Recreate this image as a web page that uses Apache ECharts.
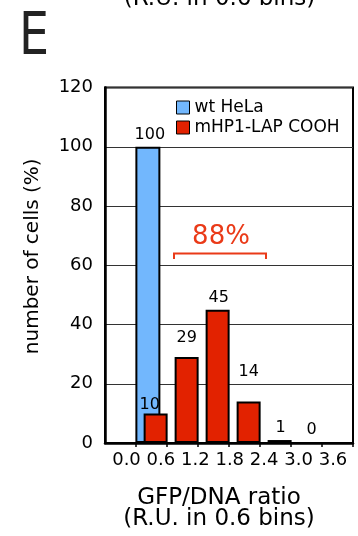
<!DOCTYPE html>
<html>
<head>
<meta charset="utf-8">
<script src="https://cdn.jsdelivr.net/npm/echarts@6/dist/echarts.min.js"></script>
<style>
html,body{margin:0;padding:0;background:#fff;}
#c{width:358px;height:536px;}
</style>
</head>
<body>
<div id="c"></div>
<script>
// ---- data ----
const binSlots = ['', '0.0-0.6', '0.6-1.2', '1.2-1.8', '1.8-2.4', '2.4-3.0', '3.0-3.6', ' '];
const wtHeLa = [null, 100, null, null, null, null, null, null];
const mHP1LAP = [null, 10, 29, 45, 14, 1, 0, null];
const xTickLabels = ['0.0', '0.6', '1.2', '1.8', '2.4', '3.0', '3.6'];
const yTicks = { min: 0, max: 120, step: 20 };
const seriesNames = ['wt HeLa', 'mHP1-LAP COOH'];
const bracketText = '88%';

// ---- styling ----
const FONT = 'DejaVu Sans';
const BLUE = '#72b7fd';
const RED = '#e22200';
const ANNOT = '#ea3a18';
// small label nudges [dx, dy] per slot (style only)
const redLabelNudge = [null, [-6, 2], [0, -8], [1, -1], [0, -19], [1, -1], [1, -1], null];
const blueLabelNudge = [null, [2, -1], null, null, null, null, null, null];

function withLabels(values, nudges) {
  return values.map((v, i) => {
    if (v === null) return '-';
    const n = nudges[i] || [0, 0];
    return { value: v, label: { offset: n } };
  });
}

const chart = echarts.init(document.getElementById('c'), null, { renderer: 'canvas' });
const option = {
  animation: false,
  textStyle: { fontFamily: FONT },
  grid: [
    { left: 105, right: 5, top: 87.5, bottom: 93, show: true, borderColor: '#000', borderWidth: 2, containLabel: false },
    { left: 126.5, right: 25, top: 87.5, bottom: 93, show: false, containLabel: false }
  ],
  xAxis: [
    {
      type: 'category', gridIndex: 0, data: binSlots, boundaryGap: true,
      axisLine: { show: true, lineStyle: { color: '#000', width: 2.5 } },
      axisTick: { show: true, length: 4, interval: (i) => i >= 1, lineStyle: { color: '#000', width: 1.5 } },
      axisLabel: { show: false },
      splitLine: { show: false }
    },
    {
      type: 'category', gridIndex: 1, data: xTickLabels, boundaryGap: false,
      axisLine: { show: false }, axisTick: { show: false }, splitLine: { show: false },
      axisLabel: { show: true, interval: 0, margin: 8, fontSize: 18, color: '#000', fontFamily: FONT }
    }
  ],
  yAxis: [
    {
      type: 'value', gridIndex: 0, min: yTicks.min, max: yTicks.max, interval: yTicks.step,
      axisLine: { show: true, lineStyle: { color: '#000', width: 2.5 } },
      axisTick: { show: false },
      axisLabel: { fontSize: 18, color: '#000', margin: 12, fontFamily: FONT },
      splitLine: { show: true, lineStyle: { color: '#333', width: 1 } },
      name: 'number of cells (%)', nameLocation: 'middle', nameGap: 62,
      nameTextStyle: { fontSize: 20, color: '#000', fontFamily: FONT, padding: [0, 0, 0, 18] }
    },
    { type: 'value', gridIndex: 1, show: false, min: 0, max: 1 }
  ],
  legend: {
    data: seriesNames, orient: 'vertical', left: 176, top: 99, padding: 0,
    itemWidth: 13, itemHeight: 13, itemGap: 3, icon: 'rect',
    itemStyle: { borderColor: '#000', borderWidth: 1 },
    textStyle: { fontSize: 17, color: '#000', fontFamily: FONT }
  },
  series: [
    {
      name: seriesNames[0], type: 'bar', xAxisIndex: 0, yAxisIndex: 0,
      data: withLabels(wtHeLa, blueLabelNudge), barWidth: 25, barGap: '-67%',
      itemStyle: { color: BLUE, borderColor: '#000', borderWidth: 2 },
      label: { show: true, position: 'top', distance: 3, fontSize: 16, color: '#000', fontFamily: FONT }
    },
    {
      name: seriesNames[1], type: 'bar', xAxisIndex: 0, yAxisIndex: 0,
      data: withLabels(mHP1LAP, redLabelNudge), barWidth: 24, barGap: '-67%',
      itemStyle: { color: RED, borderColor: '#000', borderWidth: 2 },
      label: { show: true, position: 'top', distance: 3, fontSize: 16, color: '#000', fontFamily: FONT }
    }
  ],
  graphic: [
    { type: 'text', x: 19, y: 10, scaleX: 0.82, style: { text: 'E', font: '58px "DejaVu Sans"', fill: '#222', verticalAlign: 'top' } },
    { type: 'text', x: 219.5, y: -12.6, style: { text: '(R.U. in 0.6 bins)', font: '23px "DejaVu Sans"', fill: '#000', align: 'center', verticalAlign: 'top' } },
    { type: 'text', x: 219, y: 488, style: { text: 'GFP/DNA ratio\n(R.U. in 0.6 bins)', font: '23px "DejaVu Sans"', lineHeight: 21, fill: '#000', align: 'center', verticalAlign: 'top' } }
  ]
};
chart.setOption(option);

// bracket annotation positioned through the axis scales
const pA = chart.convertToPixel({ xAxisIndex: 0, yAxisIndex: 0 }, [binSlots[2], 64]);
const pB = chart.convertToPixel({ xAxisIndex: 0, yAxisIndex: 0 }, [binSlots[5], 62.1]);
const pT = chart.convertToPixel({ xAxisIndex: 0, yAxisIndex: 0 }, [binSlots[3], 69.4]);
const half = 15.5;
const x1 = pA[0] - half + 7, x2 = pB[0] - half + 6;
chart.setOption({
  graphic: option.graphic.concat([
    { type: 'polyline', shape: { points: [[x1, pB[1]], [x1, pA[1]], [x2, pA[1]], [x2, pB[1]]] }, style: { stroke: ANNOT, lineWidth: 2, fill: null } },
    { type: 'text', x: (x1 + x2) / 2 + 1, y: pT[1], style: { text: bracketText, font: '26px "DejaVu Sans"', fill: ANNOT, align: 'center', verticalAlign: 'middle' } }
  ])
});
</script>
</body>
</html>
